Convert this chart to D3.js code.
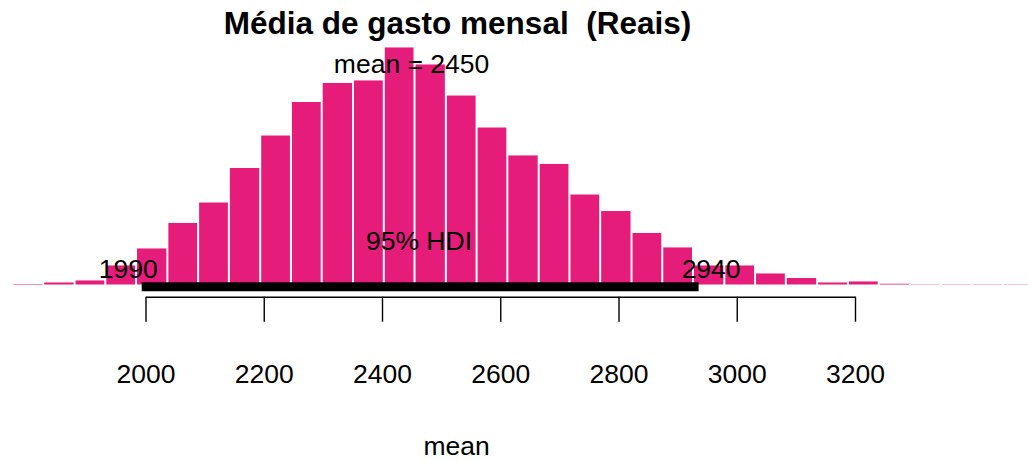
<!DOCTYPE html>
<html>
<head>
<meta charset="utf-8">
<script src="https://cdn.jsdelivr.net/npm/d3@7"></script>
<style>
  html, body { margin: 0; padding: 0; background: #ffffff; }
  svg { display: block; }
  text { font-family: "Liberation Sans", Arial, Helvetica, sans-serif; fill: #000; }
</style>
</head>
<body>
<svg id="chart" width="1028" height="461"></svg>
<script>
// ---- data ----
// histogram bin breaks of the posterior sample of "mean"
const binBreaks = [1775, 1827, 1880, 1932, 1984, 2037, 2089, 2141, 2194, 2246, 2298,
  2351, 2403, 2455, 2508, 2560, 2612, 2665, 2717, 2769, 2822, 2874, 2926, 2979, 3031,
  3083, 3136, 3188, 3240, 3293, 3345, 3397, 3450, 3502];
// density per bin (x 1e-4)
const binDensity = [0.04, 0.16, 0.32, 1.50, 2.84, 4.85, 6.46, 9.18, 11.74, 14.38, 15.88,
  16.08, 18.68, 17.34, 14.89, 12.37, 10.17, 9.50, 7.09, 5.79, 4.06, 2.92, 1.50, 1.50,
  0.87, 0.51, 0.16, 0.24, 0.06, 0.02, 0.02, 0.02, 0.02];
const xTicks = [2000, 2200, 2400, 2600, 2800, 3000, 3200];
const hdi = [1993.6, 2935.5];
const hdiLabels = ["1990", "2940"];
const meanValue = 2450;
const titleText = "Média de gasto mensal  (Reais)";
const xLabel = "mean";

// ---- drawing ----
const svg = d3.select("#chart");
const barColor = "#E61C7A";

const x = d3.scaleLinear().domain([2000, 3200]).range([145.5, 855]);
const y = d3.scaleLinear().domain([0, 20]).range([284.5, 30.7]);

const bins = binDensity.map((d, i) => ({ x0: binBreaks[i], x1: binBreaks[i + 1], d }));

svg.append("g").selectAll("rect").data(bins).join("rect")
  .attr("x", b => x(b.x0))
  .attr("width", b => x(b.x1) - x(b.x0))
  .attr("y", b => y(b.d))
  .attr("height", b => y(0) - y(b.d))
  .attr("fill", barColor);

// white borders between bars
svg.append("g").selectAll("line").data(binBreaks).join("line")
  .attr("x1", v => x(v)).attr("x2", v => x(v))
  .attr("y1", y(0) + 0.5)
  .attr("y2", (v, i) => {
    const l = i > 0 ? binDensity[i - 1] : 0;
    const r = i < binDensity.length ? binDensity[i] : 0;
    return y(Math.max(l, r)) - 0.5;
  })
  .attr("stroke", "#fff").attr("stroke-width", 2);

// HDI bar
svg.append("line")
  .attr("x1", x(hdi[0])).attr("x2", x(hdi[1]))
  .attr("y1", y(0) + 2.3).attr("y2", y(0) + 2.3)
  .attr("stroke", "#000").attr("stroke-width", 9).attr("stroke-linecap", "butt");

// axis
const axisY = 296.7;
const axis = d3.axisBottom(x).tickValues(xTicks).tickSize(25).tickSizeOuter(0)
  .tickFormat(d3.format("d"));
const gAxis = svg.append("g").attr("transform", `translate(0,${axisY})`).call(axis);
gAxis.select(".domain").attr("stroke", "#000").attr("stroke-width", 1.4);
gAxis.selectAll(".tick line").attr("stroke", "#000").attr("stroke-width", 1.4);
gAxis.selectAll(".tick text")
  .attr("y", 86.6).attr("dy", 0)
  .style("font-size", "26.5px")
  .style("font-family", '"Liberation Sans", Arial, Helvetica, sans-serif')
  .attr("fill", "#000");

// texts
svg.append("text").attr("x", 457.5).attr("y", 34).attr("text-anchor", "middle")
  .attr("xml:space", "preserve").style("white-space", "pre")
  .style("font-size", "31.5px").style("font-weight", "bold").text(titleText);

svg.append("text").attr("x", x(meanValue)).attr("y", 73).attr("text-anchor", "middle")
  .style("font-size", "26.5px").text("mean = " + meanValue);

svg.append("text").attr("x", 419).attr("y", 250).attr("text-anchor", "middle")
  .style("font-size", "26.5px").text("95% HDI");

svg.append("text").attr("x", x(hdi[0]) - 13.5).attr("y", 278.3).attr("text-anchor", "middle")
  .style("font-size", "26.5px").text(hdiLabels[0]);
svg.append("text").attr("x", x(hdi[1]) + 12.5).attr("y", 277.8).attr("text-anchor", "middle")
  .style("font-size", "26.5px").text(hdiLabels[1]);

svg.append("text").attr("x", 456.7).attr("y", 455).attr("text-anchor", "middle")
  .style("font-size", "26.5px").text(xLabel);
</script>
</body>
</html>
